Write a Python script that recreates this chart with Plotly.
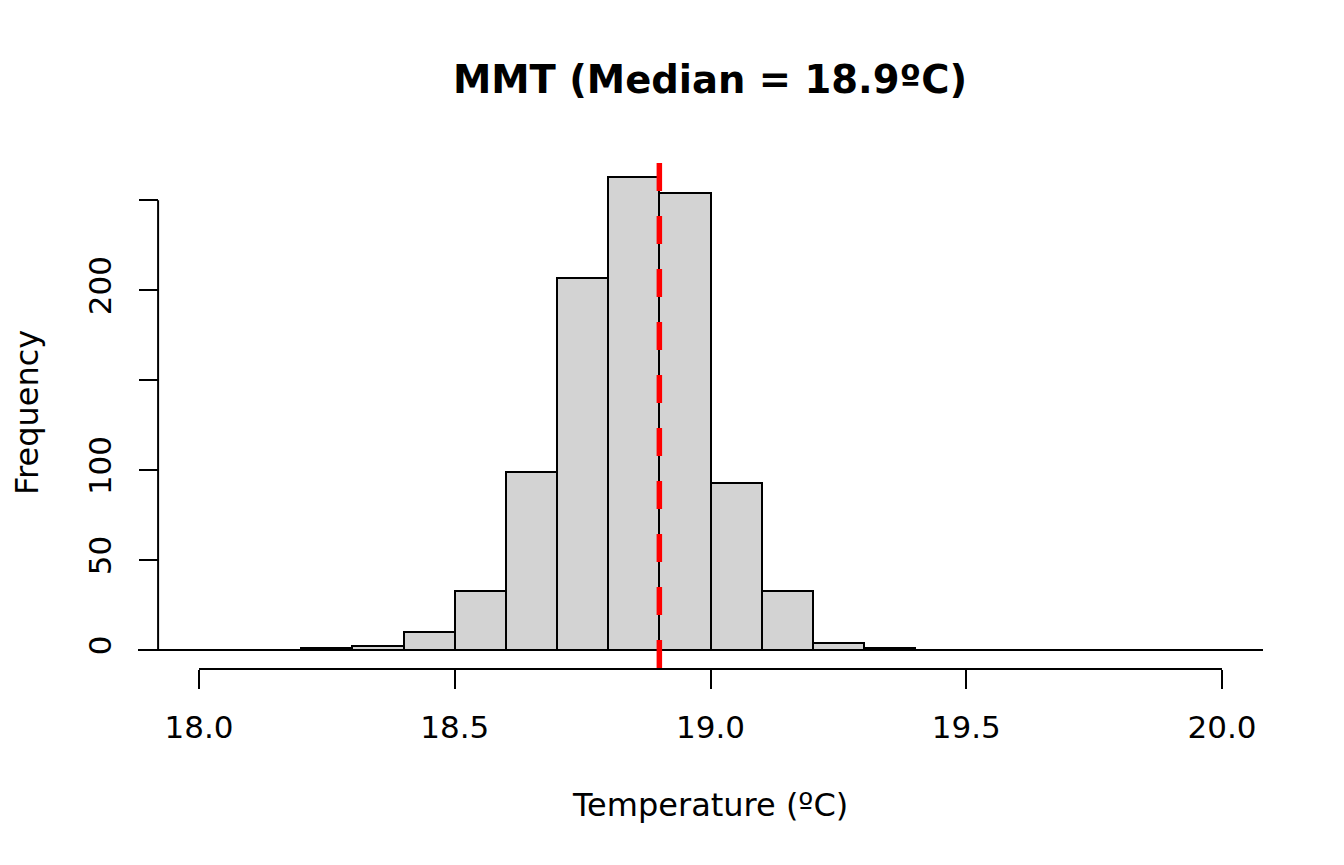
import numpy as np
import plotly.graph_objects as go

# histogram bins (left edges) and counts
bin_start = [17.8, 17.9, 18.0, 18.1, 18.2, 18.3, 18.4, 18.5, 18.6, 18.7, 18.8, 18.9,
             19.0, 19.1, 19.2, 19.3, 19.4, 19.5, 19.6, 19.7, 19.8, 19.9, 20.0]
counts = [0, 0, 0, 0, 1, 2, 10, 33, 99, 207, 263, 254,
          93, 33, 4, 1, 0, 0, 0, 0, 0, 0, 0]
bin_width = 0.1
median_mmt = 18.9

x_ticks = [18.0, 18.5, 19.0, 19.5, 20.0]
y_ticks = [0, 50, 100, 150, 200, 250]
y_ticktext = ["0", "50", "100", "", "200", ""]

FONT = "DejaVu Sans"

edges = np.array(bin_start)
centers = edges + bin_width / 2
x_range = [17.8807, 20.0802]
y_range = [-0.04 * max(counts), 1.04 * max(counts)]

# the page body has an 8px margin, so everything is pulled up/left by 8
OFF = 8
L, T = 138 - OFF, 158 - OFF
PW, PH = 1125, 511

fig = go.Figure()

# zero-count bins show up as a flat line along y = 0
fig.add_trace(go.Scatter(
    x=[edges[0], edges[-1] + bin_width], y=[0, 0],
    mode="lines", line=dict(color="black", width=2),
    hoverinfo="skip", showlegend=False,
))

fig.add_trace(go.Bar(
    x=centers, y=counts, width=bin_width,
    marker=dict(color="#D3D3D3", line=dict(color="black", width=2)),
    showlegend=False,
))

# axis lines only span first to last tick, like base R
y_pos = (x_ticks[0] - 0.04 * (x_ticks[-1] - x_ticks[0]) - x_range[0]) / (x_range[1] - x_range[0])
fig.add_shape(type="line", xref="x", yref="paper",
              x0=x_ticks[0], x1=x_ticks[-1], y0=0, y1=0,
              line=dict(color="black", width=2))
fig.add_shape(type="line", xref="paper", yref="y",
              x0=y_pos, x1=y_pos, y0=y_ticks[0], y1=y_ticks[-1],
              line=dict(color="black", width=2))

# median line
fig.add_shape(type="line", xref="x", yref="paper",
              x0=median_mmt, x1=median_mmt, y0=1, y1=0,
              line=dict(color="#FF0000", width=5.5, dash="0px,5px,28px,20px"))

fig.update_layout(
    width=1344, height=865, autosize=False,
    margin=dict(l=L, r=1344 - L - PW, t=T, b=865 - T - PH),
    paper_bgcolor="white", plot_bgcolor="white",
    font=dict(family=FONT, color="black", size=31),
    bargap=0,
    title=dict(
        text="<b>MMT (Median = 18.9ºC)</b>",
        x=(710 - OFF) / 1344, xref="container", xanchor="center",
        y=1 - (80 - OFF) / 865, yref="container", yanchor="middle",
        font=dict(family=FONT, size=38.5, color="black"),
    ),
    xaxis=dict(
        range=x_range, showgrid=False, zeroline=False, showline=False,
        tickvals=x_ticks, tickformat=".1f",
        ticks="outside", ticklen=19, tickwidth=2, tickcolor="black",
        ticklabelstandoff=12,
        tickfont=dict(family=FONT, size=31),
    ),
    yaxis=dict(
        range=y_range, showgrid=False, zeroline=False, showline=False,
        anchor="free", position=y_pos,
        tickvals=y_ticks, ticktext=y_ticktext, tickangle=-90,
        ticks="outside", ticklen=19, tickwidth=2, tickcolor="black",
        ticklabelstandoff=16,
        tickfont=dict(family=FONT, size=31),
    ),
    annotations=[
        dict(text="Temperature (ºC)", xref="paper", yref="paper",
             x=(710 - 138) / PW, y=(669 - 805) / PH,
             xanchor="center", yanchor="middle", showarrow=False,
             font=dict(family=FONT, size=32)),
        dict(text="Frequency", xref="paper", yref="paper",
             x=(27 - 138) / PW, y=(669 - 413) / PH, textangle=-90,
             xanchor="center", yanchor="middle", showarrow=False,
             font=dict(family=FONT, size=32)),
    ],
)

fig.write_html("out.html")
